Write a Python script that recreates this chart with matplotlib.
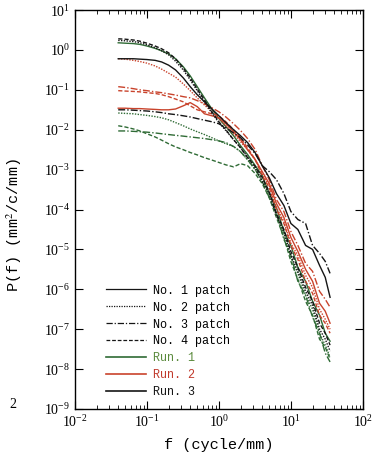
import numpy as np
import matplotlib
matplotlib.use("Agg")
import matplotlib.pyplot as plt
from matplotlib.lines import Line2D

plt.rcParams['font.family'] = ['Liberation Serif', 'DejaVu Serif']
plt.rcParams['mathtext.fontset'] = 'stix'

# frequency nodes (cycle/mm)
freq = [0.04, 0.05, 0.065, 0.08, 0.1, 0.13, 0.16, 0.2, 0.25, 0.32, 0.4, 0.5,
        0.63, 0.8, 1.0, 1.25, 1.6, 2.0, 2.5, 3.2, 4.0, 5.0, 6.3, 8.0, 10,
        12.5, 16, 20, 25, 30, 35]

# log10 P(f) for each run / patch
run1_p1 = [0.18, 0.17, 0.16, 0.14, 0.10, 0.04, -0.02, -0.10, -0.22, -0.42, -0.65, -0.92,
           -1.2, -1.48, -1.72, -1.92, -2.15, -2.4, -2.62, -2.9,
           -3.15, -3.6, -3.95, -4.55, -4.9, -5.45, -5.8, -6.3, -6.65, -7.1, -7.3]
run1_p2 = [-1.58, -1.59, -1.6, -1.62, -1.64, -1.67, -1.7, -1.75, -1.82, -1.9, -1.98, -2.05,
           -2.12, -2.2, -2.28, -2.35, -2.42, -2.55, -2.75, -3.0,
           -3.25, -3.6, -4.1, -4.6, -5.2, -5.6, -6.15, -6.5, -7.1, -7.4, -7.7]
run1_p3 = [-2.03, -2.03, -2.04, -2.05, -2.06, -2.08, -2.1, -2.12, -2.14, -2.16, -2.18, -2.2,
           -2.22, -2.25, -2.28, -2.32, -2.42, -2.55, -2.75, -3.0,
           -3.3, -3.7, -4.1, -4.75, -5.15, -5.8, -6.15, -6.7, -7.1, -7.6, -7.82]
run1_p4 = [-1.9, -1.93, -1.98, -2.03, -2.1, -2.18, -2.26, -2.35, -2.43, -2.5, -2.57, -2.63,
           -2.7, -2.76, -2.82, -2.88, -2.93, -2.85, -2.9, -3.1,
           -3.35, -3.7, -4.2, -4.7, -5.3, -5.75, -6.3, -6.65, -7.25, -7.45, -7.75]

run2_p1 = [-1.46, -1.46, -1.47, -1.47, -1.48, -1.49, -1.5, -1.5, -1.48, -1.4, -1.32, -1.42,
           -1.6, -1.65, -1.7, -1.85, -2.05, -2.25, -2.5, -2.75,
           -3.05, -3.35, -3.85, -4.2, -4.7, -5.05, -5.5, -5.8, -6.35, -6.55, -6.85]
run2_p2 = [-0.22, -0.23, -0.26, -0.29, -0.33, -0.4, -0.48, -0.58, -0.68, -0.85, -1.02, -1.2,
           -1.38, -1.55, -1.72, -1.9, -2.1, -2.3, -2.5, -2.75,
           -3.1, -3.4, -3.95, -4.3, -4.85, -5.15, -5.65, -5.95, -6.5, -6.75, -7.0]
run2_p3 = [-0.92, -0.94, -0.97, -1.0, -1.02, -1.05, -1.07, -1.1, -1.13, -1.17, -1.2, -1.27,
           -1.35, -1.45, -1.55, -1.68, -1.85, -2.02, -2.22, -2.5,
           -2.9, -3.25, -3.75, -4.05, -4.55, -4.9, -5.35, -5.55, -6.05, -6.25, -6.45]
run2_p4 = [-1.02, -1.03, -1.04, -1.05, -1.07, -1.09, -1.12, -1.17, -1.23, -1.3, -1.4, -1.5,
           -1.55, -1.6, -1.65, -1.8, -2.0, -2.2, -2.45, -2.75,
           -3.15, -3.45, -4.0, -4.35, -4.9, -5.25, -5.8, -6.1, -6.65, -6.85, -7.1]

run3_p1 = [-0.22, -0.22, -0.22, -0.23, -0.24, -0.26, -0.3, -0.38, -0.5, -0.7, -0.92, -1.12,
           -1.3, -1.48, -1.65, -1.82, -2.0, -2.15, -2.32, -2.58,
           -2.9, -3.2, -3.6, -3.9, -4.35, -4.5, -4.9, -5.0, -5.4, -5.7, -6.2]
run3_p2 = [0.24, 0.23, 0.21, 0.18, 0.13, 0.06, -0.02, -0.12, -0.28, -0.5, -0.75, -1.02,
           -1.3, -1.58, -1.82, -2.02, -2.25, -2.45, -2.68, -2.95,
           -3.3, -3.6, -4.15, -4.55, -5.15, -5.55, -6.05, -6.4, -7.0, -7.25, -7.55]
run3_p3 = [-1.50, -1.50, -1.51, -1.52, -1.53, -1.55, -1.57, -1.6, -1.62, -1.65, -1.68, -1.72,
           -1.76, -1.8, -1.85, -1.95, -2.08, -2.2, -2.38, -2.6,
           -2.9, -3.05, -3.25, -3.6, -4.05, -4.25, -4.35, -4.9, -5.1, -5.3, -5.6]
run3_p4 = [0.28, 0.27, 0.25, 0.22, 0.17, 0.10, 0.03, -0.07, -0.22, -0.45, -0.7, -0.98,
           -1.25, -1.55, -1.8, -2.0, -2.25, -2.45, -2.7, -2.92,
           -3.2, -3.55, -4.1, -4.5, -5.05, -5.45, -5.95, -6.3, -6.85, -7.1, -7.4]

runs = {
    "Run. 1": [run1_p1, run1_p2, run1_p3, run1_p4],
    "Run. 2": [run2_p1, run2_p2, run2_p3, run2_p4],
    "Run. 3": [run3_p1, run3_p2, run3_p3, run3_p4],
}
run_colors = {"Run. 1": "#2f6b35", "Run. 2": "#c9432c", "Run. 3": "#151515"}
run_text_colors = {"Run. 1": "#5a8a3c", "Run. 2": "#c0392b", "Run. 3": "#151515"}
patch_labels = ["No. 1 patch", "No. 2 patch", "No. 3 patch", "No. 4 patch"]
patch_styles = ["-", (0, (1, 1)), (0, (5, 1.5, 1, 1.5)), (0, (3, 1.5))]

fig = plt.figure(figsize=(3.82, 4.58), dpi=100)
ax = fig.add_axes([0.196, 0.107, 0.754, 0.871])

for run, curves in runs.items():
    for i, vals in enumerate(curves):
        ax.plot(freq, 10 ** np.array(vals), color=run_colors[run],
                ls=patch_styles[i], lw=1.0)

ax.set_xscale("log")
ax.set_yscale("log")
ax.set_xlim(1e-2, 1e2)
ax.set_ylim(1e-9, 1e1)
ax.set_xticks([1e-2, 1e-1, 1e0, 1e1, 1e2])
ax.set_yticks([10.0 ** k for k in range(-9, 2)])
ax.tick_params(which="both", direction="in", top=True, right=True, labelsize=10)
ax.tick_params(which="major", length=6, width=0.8)
ax.tick_params(which="minor", length=3, width=0.6)
for s in ax.spines.values():
    s.set_linewidth(1.0)

ax.set_xlabel("f (cycle/mm)", fontsize=11, family="Liberation Mono", labelpad=6)
ax.set_ylabel("P(f) (mm$^2$/c/mm)", fontsize=11, family="Liberation Mono")
ax.yaxis.set_label_coords(-0.175, 0.46)

handles = [Line2D([], [], color="#151515", ls=st, lw=0.9) for st in patch_styles]
labels = list(patch_labels)
for run in runs:
    handles.append(Line2D([], [], color=run_colors[run], lw=1.2))
    labels.append(run)
leg = ax.legend(handles, labels, loc="lower left", bbox_to_anchor=(0.07, 0.0),
                frameon=False, handlelength=3.4, handletextpad=0.6, labelspacing=0.42,
                prop={"family": "Liberation Mono", "size": 8.5})
for t, lab in zip(leg.get_texts(), labels):
    if lab in run_text_colors:
        t.set_color(run_text_colors[lab])

# stray character from the neighbouring panel of the scan
fig.text(0.025, 1 - 404 / 458, "2", fontsize=10, va="center")

fig.savefig("out.png", dpi=100)
